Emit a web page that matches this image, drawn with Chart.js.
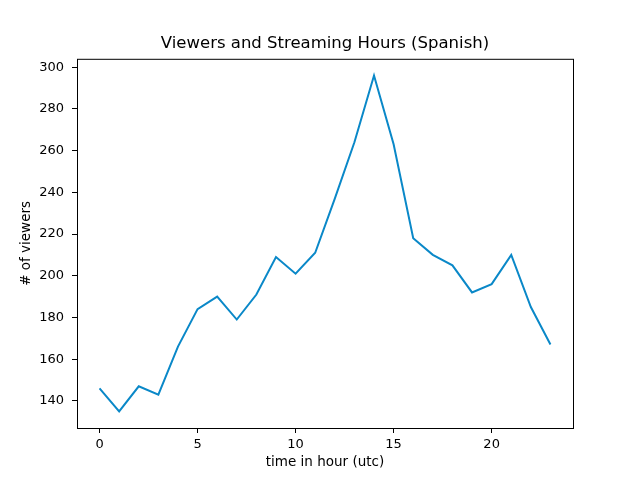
<!DOCTYPE html>
<html lang="en">
<head>
    <meta charset="UTF-8">
    <title>Viewers and Streaming Hours (Spanish)</title>
    <script src="https://cdn.jsdelivr.net/npm/chart.js"></script>
    <style>
        body {
            margin: 0;
            padding: 0;
            background: white;
        }
        #wrap {
            width: 631px;
            height: 478px;
        }
    </style>
</head>
<body>
    <div id="wrap"><canvas id="viewersChart"></canvas></div>

    <script>
        // hour of day (utc) and average viewers
        const hours = [0, 1, 2, 3, 4, 5, 6, 7, 8, 9, 10, 11, 12, 13, 14, 15, 16, 17, 18, 19, 20, 21, 22, 23];
        const viewers = [146, 135, 147, 143, 166, 184, 190, 179, 191, 209, 201, 211, 237, 264, 296, 263, 218, 210, 205, 192, 196, 210, 185, 167];
        const xTicks = [0, 5, 10, 15, 20];
        const yTicks = [140, 160, 180, 200, 220, 240, 260, 280, 300];

        const FONT = 'DejaVu Sans';

        // box around the plot area, like matplotlib's spines
        const frame = {
            id: 'frame',
            afterDraw(chart) {
                const {ctx, chartArea: a} = chart;
                ctx.save();
                ctx.strokeStyle = '#000';
                ctx.lineWidth = 1;
                ctx.strokeRect(a.left + 0.5, a.top + 0.5, a.right - a.left, a.bottom - a.top);
                ctx.restore();
            }
        };

        new Chart(document.getElementById('viewersChart'), {
            type: 'line',
            data: {
                datasets: [{
                    data: hours.map((h, i) => ({x: h, y: viewers[i]})),
                    borderColor: '#0a88c8',
                    borderWidth: 2,
                    pointRadius: 0,
                    tension: 0,
                    fill: false
                }]
            },
            options: {
                responsive: true,
                maintainAspectRatio: false,
                animation: false,
                layout: { padding: { left: 0, right: 58, top: 0, bottom: 0 } },
                plugins: {
                    legend: { display: false },
                    tooltip: { enabled: false },
                    title: {
                        display: true,
                        fullSize: false,
                        text: 'Viewers and Streaming Hours (Spanish)',
                        color: '#000',
                        font: { family: FONT, size: 16.5, weight: 'normal' },
                        padding: { top: 34, bottom: 5 }
                    }
                },
                scales: {
                    x: {
                        type: 'linear',
                        min: -1.15,
                        max: 24.15,
                        afterBuildTicks: s => { s.ticks = xTicks.map(v => ({value: v})); },
                        afterFit: s => { s.height = 50; },
                        grid: { drawOnChartArea: false, tickLength: 5, tickColor: '#000' },
                        border: { display: false },
                        ticks: { color: '#000', font: { family: FONT, size: 13 }, padding: 4, maxRotation: 0 },
                        title: {
                            display: true,
                            text: 'time in hour (utc)',
                            color: '#000',
                            font: { family: FONT, size: 13.5 },
                            padding: { top: 0, bottom: 7 }
                        }
                    },
                    y: {
                        min: 127,
                        max: 304,
                        afterBuildTicks: s => { s.ticks = yTicks.map(v => ({value: v})); },
                        afterFit: s => { s.width = 77; },
                        grid: { drawOnChartArea: false, tickLength: 5, tickColor: '#000' },
                        border: { display: false },
                        ticks: { color: '#000', font: { family: FONT, size: 13 }, padding: 8 },
                        title: {
                            display: true,
                            text: '# of viewers',
                            color: '#000',
                            font: { family: FONT, size: 13.5 },
                            padding: { top: 18, bottom: 0 }
                        }
                    }
                }
            },
            plugins: [frame]
        });
    </script>
</body>
</html>
